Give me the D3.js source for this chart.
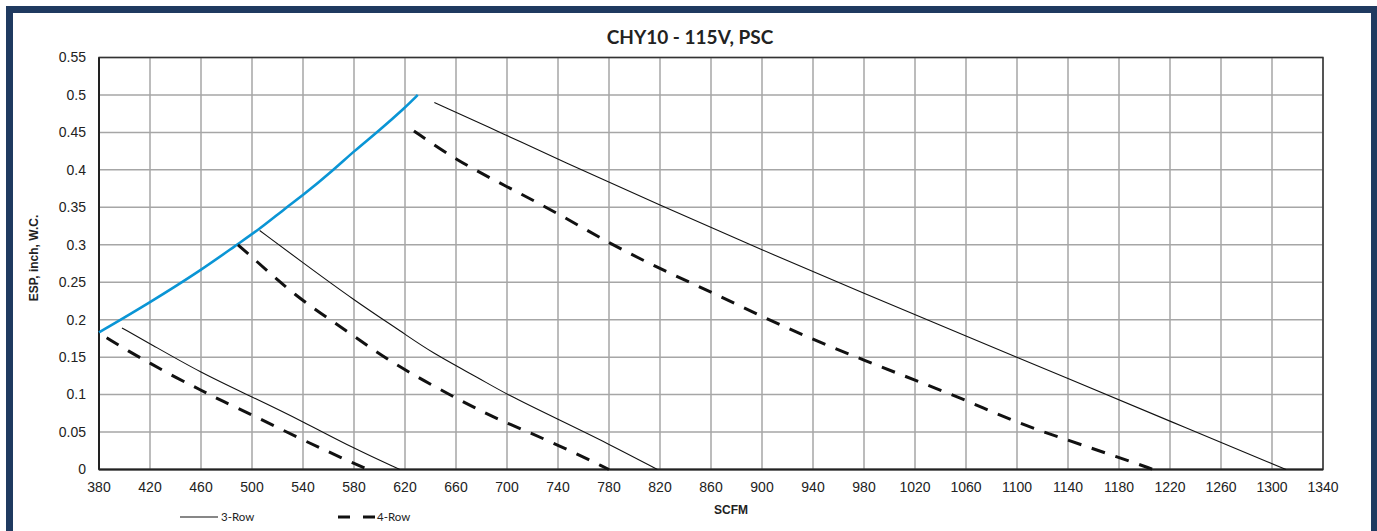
<!DOCTYPE html>
<html>
<head>
<meta charset="utf-8">
<script src="https://cdn.jsdelivr.net/npm/d3@7.9.0/dist/d3.min.js"></script>
<style>
  body { margin: 0; background: #fff; }
  svg { display: block; }
</style>
</head>
<body>
<svg id="chart" width="1377" height="531"></svg>
<script>
// values
const title = 'CHY10 - 115V, PSC';
const xTicks = [380, 420, 460, 500, 540, 580, 620, 660, 700, 740, 780, 820, 860, 900, 940, 980, 1020, 1060, 1100, 1140, 1180, 1220, 1260, 1300, 1340];
const yTicks = [0, 0.05, 0.1, 0.15, 0.2, 0.25, 0.3, 0.35, 0.4, 0.45, 0.5, 0.55];

// max ESP limit (blue)
const limitCurve = [[380, 0.183], [420, 0.223], [460, 0.266], [488, 0.3], [506, 0.321], [527, 0.35], [540, 0.366], [564, 0.4], [580, 0.425], [598, 0.45], [620, 0.483], [630, 0.5]];

// 3-Row (solid)
const row3 = [
  [[398, 0.189], [420, 0.168], [460, 0.129], [500, 0.097], [540, 0.064], [580, 0.028], [616, 0]],
  [[506, 0.319], [540, 0.276], [580, 0.226], [619, 0.182], [640, 0.157], [679, 0.121], [700, 0.1], [740, 0.067], [780, 0.034], [818, 0]],
  [[643, 0.49], [700, 0.446], [740, 0.414], [820, 0.353], [900, 0.293], [980, 0.235], [1060, 0.178], [1140, 0.1215], [1220, 0.0645], [1311, 0]]
];

// 4-Row (dashed)
const row4 = [
  [[386, 0.176], [403, 0.158], [420, 0.142], [441, 0.122], [460, 0.106], [477, 0.091], [500, 0.073], [539, 0.04], [571, 0.015], [591, 0]],
  [[489, 0.3], [501, 0.282], [535, 0.23], [572, 0.188], [603, 0.15], [632, 0.121], [679, 0.078], [700, 0.062], [740, 0.033], [780, 0]],
  [[627, 0.452], [660, 0.413], [700, 0.3775], [740, 0.342], [780, 0.302], [820, 0.268], [860, 0.237], [900, 0.204], [940, 0.1736], [980, 0.146], [1020, 0.1193], [1060, 0.0926], [1100, 0.0623], [1140, 0.0391], [1180, 0.016], [1207, 0]]
];

const svg = d3.select('#chart');

// navy frame
svg.append('rect')
  .attr('x', 9.5).attr('y', 9.5)
  .attr('width', 1365).attr('height', 560)
  .attr('fill', 'none')
  .attr('stroke', '#1f3a60')
  .attr('stroke-width', 7);

const plotL = 99, plotR = 1323, plotT = 57.5, plotB = 469.5;
const x = d3.scaleLinear().domain([380, 1340]).range([plotL, plotR]);
const y = d3.scaleLinear().domain([0, 0.55]).range([plotB, plotT]);

// grid
const grid = svg.append('g').attr('stroke', '#a6a6a6').attr('stroke-width', 1.5);
xTicks.forEach(v => {
  grid.append('line').attr('x1', x(v)).attr('x2', x(v)).attr('y1', plotT).attr('y2', plotB);
});
yTicks.forEach(v => {
  grid.append('line').attr('x1', plotL).attr('x2', plotR).attr('y1', y(v)).attr('y2', y(v));
});

// plot frame
svg.append('rect')
  .attr('x', plotL).attr('y', plotT)
  .attr('width', plotR - plotL).attr('height', plotB - plotT)
  .attr('fill', 'none').attr('stroke', '#333').attr('stroke-width', 1.5);
svg.append('line')
  .attr('x1', plotL).attr('x2', plotR).attr('y1', plotB).attr('y2', plotB)
  .attr('stroke', '#222').attr('stroke-width', 2);
svg.append('line')
  .attr('x1', plotL).attr('x2', plotL).attr('y1', plotT).attr('y2', plotB)
  .attr('stroke', '#222').attr('stroke-width', 2);

// tick labels
svg.append('g').selectAll('text').data(yTicks).join('text')
  .attr('x', 86).attr('y', d => y(d)).attr('dy', '0.35em')
  .attr('text-anchor', 'end')
  .attr('font-family', 'Liberation Sans, Arial, sans-serif').attr('font-size', 14)
  .attr('fill', '#222')
  .text(d => d3.format('~g')(d));

svg.append('g').selectAll('text').data(xTicks).join('text')
  .attr('x', d => x(d)).attr('y', 492)
  .attr('text-anchor', 'middle')
  .attr('font-family', 'Liberation Sans, Arial, sans-serif').attr('font-size', 14)
  .attr('fill', '#222')
  .text(d => d);

// curves
const line = d3.line().x(d => x(d[0])).y(d => y(d[1])).curve(d3.curveBasis);

svg.append('path').datum(limitCurve)
  .attr('d', line).attr('fill', 'none')
  .attr('stroke', '#0a95d5').attr('stroke-width', 2.6);

row3.forEach(c => {
  svg.append('path').datum(c)
    .attr('d', line).attr('fill', 'none')
    .attr('stroke', '#111').attr('stroke-width', 1.1);
});
row4.forEach(c => {
  svg.append('path').datum(c)
    .attr('d', line).attr('fill', 'none')
    .attr('stroke', '#111').attr('stroke-width', 3)
    .attr('stroke-dasharray', '14,11');
});

// titles
svg.append('text')
  .attr('x', 690).attr('y', 44)
  .attr('text-anchor', 'middle')
  .attr('font-family', 'Lato, sans-serif').attr('font-weight', 'bold').attr('font-size', 19)
  .attr('fill', '#222')
  .text(title);

svg.append('text')
  .attr('transform', 'translate(38,258) rotate(-90)')
  .attr('text-anchor', 'middle')
  .attr('font-family', 'Liberation Sans, Arial, sans-serif').attr('font-weight', 'bold').attr('font-size', 12)
  .attr('fill', '#222')
  .text('ESP, inch, W.C.');

svg.append('text')
  .attr('x', 731).attr('y', 514)
  .attr('text-anchor', 'middle')
  .attr('font-family', 'Liberation Sans, Arial, sans-serif').attr('font-weight', 'bold').attr('font-size', 12)
  .attr('fill', '#222')
  .text('SCFM');

// legend
const legend = svg.append('g');
legend.append('line').attr('x1', 180).attr('x2', 218).attr('y1', 517).attr('y2', 517)
  .attr('stroke', '#111').attr('stroke-width', 1.1);
legend.append('text').attr('x', 221).attr('y', 521)
  .attr('font-family', 'Lato, sans-serif').attr('font-size', 11.5).attr('fill', '#222')
  .text('3-Row');
legend.append('line').attr('x1', 338).attr('x2', 375).attr('y1', 517).attr('y2', 517)
  .attr('stroke', '#111').attr('stroke-width', 3).attr('stroke-dasharray', '12,13');
legend.append('text').attr('x', 377).attr('y', 521)
  .attr('font-family', 'Lato, sans-serif').attr('font-size', 11.5).attr('fill', '#222')
  .text('4-Row');
</script>
</body>
</html>
